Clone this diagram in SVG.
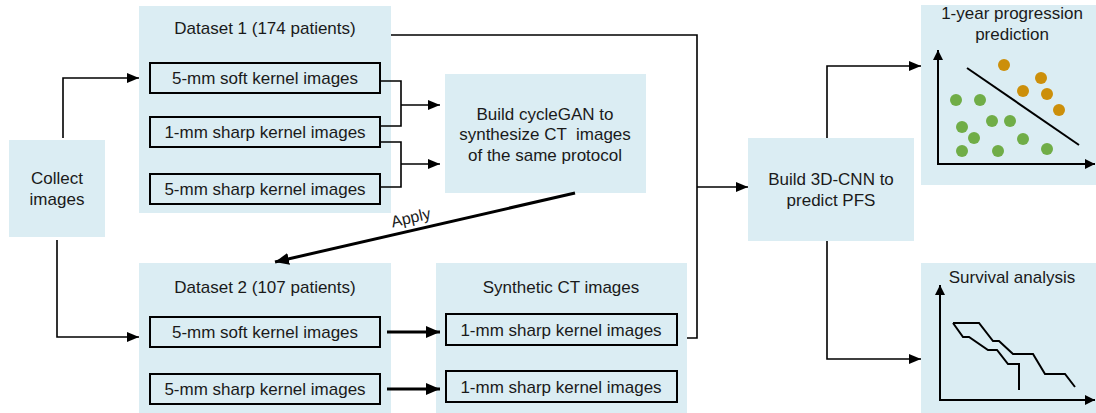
<svg xmlns="http://www.w3.org/2000/svg" width="1096" height="413" viewBox="0 0 1096 413">
<defs>
<style>
.bg{fill:#dbedf3;stroke:none}
.ib{fill:#dbedf3;stroke:#000;stroke-width:2}
.t{font-family:"Liberation Sans",Arial,sans-serif;font-size:17px;fill:#1a1a1a;text-anchor:middle}
.c{fill:none;stroke:#000;stroke-width:1.6}
.ck{fill:none;stroke:#000;stroke-width:3}
.ax{fill:none;stroke:#000;stroke-width:2}
.g{fill:#70ad47}
.o{fill:#cc8f0a}
</style>
<marker id="ah" viewBox="0 0 12 10" refX="12" refY="5" markerWidth="12" markerHeight="10" markerUnits="userSpaceOnUse" orient="auto">
<path d="M0,0 L12,5 L0,10 Z" fill="#000"/>
</marker>
<marker id="ahk" viewBox="0 0 14 12" refX="14" refY="6" markerWidth="14" markerHeight="12" markerUnits="userSpaceOnUse" orient="auto">
<path d="M0,0 L14,6 L0,12 Z" fill="#000"/>
</marker>
<marker id="ahs" viewBox="0 0 10 10" refX="10" refY="5" markerWidth="10" markerHeight="10" markerUnits="userSpaceOnUse" orient="auto">
<path d="M0,0 L10,5 L0,10 Z" fill="#000"/>
</marker>
</defs>
<rect width="1096" height="413" fill="#fff"/>

<g id="collect">
<rect class="bg" x="9" y="140" width="96" height="97"/>
<text class="t" x="57" y="184">Collect</text>
<text class="t" x="57" y="205">images</text>
</g>

<g id="dataset1">
<rect class="bg" x="139" y="6" width="252" height="207"/>
<text class="t" x="265" y="34">Dataset 1 (174 patients)</text>
<rect class="ib" x="150" y="63" width="230" height="30"/>
<text class="t" x="265" y="84">5-mm soft kernel images</text>
<rect class="ib" x="150" y="117" width="230" height="30"/>
<text class="t" x="265" y="138">1-mm sharp kernel images</text>
<rect class="ib" x="150" y="174" width="230" height="30"/>
<text class="t" x="265" y="195">5-mm sharp kernel images</text>
</g>

<g id="cyclegan">
<rect class="bg" x="445" y="74" width="201" height="119"/>
<text class="t" x="545" y="120">Build cycleGAN to</text>
<text class="t" x="545" y="140" xml:space="preserve">synthesize CT  images</text>
<text class="t" x="545" y="161">of the same protocol</text>
</g>

<g id="dataset2">
<rect class="bg" x="139" y="263" width="252" height="150"/>
<text class="t" x="265" y="293">Dataset 2 (107 patients)</text>
<rect class="ib" x="150" y="317" width="230" height="30"/>
<text class="t" x="265" y="338">5-mm soft kernel images</text>
<rect class="ib" x="150" y="374" width="230" height="30"/>
<text class="t" x="265" y="395">5-mm sharp kernel images</text>
</g>

<g id="synthetic">
<rect class="bg" x="436" y="263" width="251" height="150"/>
<text class="t" x="561" y="293">Synthetic CT images</text>
<rect class="ib" x="446" y="314" width="231" height="31"/>
<text class="t" x="561" y="336">1-mm sharp kernel images</text>
<rect class="ib" x="446" y="371" width="231" height="31"/>
<text class="t" x="561" y="393">1-mm sharp kernel images</text>
</g>

<g id="cnn">
<rect class="bg" x="748" y="138" width="166" height="103"/>
<text class="t" x="831" y="185">Build 3D-CNN to</text>
<text class="t" x="831" y="206">predict PFS</text>
</g>

<g id="progression">
<rect class="bg" x="921" y="5" width="175" height="180"/>
<text class="t" x="1012" y="19">1-year progression</text>
<text class="t" x="1012" y="40">prediction</text>
<line class="ax" x1="938" y1="164" x2="938" y2="50" marker-end="url(#ahs)"/>
<line class="ax" x1="937" y1="164" x2="1095" y2="164" marker-end="url(#ahs)"/>
<line class="ax" x1="967" y1="68" x2="1079" y2="145"/>
<circle class="o" cx="1004" cy="65" r="6"/>
<circle class="o" cx="1041" cy="78" r="6"/>
<circle class="o" cx="1023" cy="91" r="6"/>
<circle class="o" cx="1047" cy="94" r="6"/>
<circle class="o" cx="1059" cy="110" r="6"/>
<circle class="g" cx="956" cy="100" r="6"/>
<circle class="g" cx="980" cy="100" r="6"/>
<circle class="g" cx="962" cy="127" r="6"/>
<circle class="g" cx="992" cy="121" r="6"/>
<circle class="g" cx="1010" cy="121" r="6"/>
<circle class="g" cx="974" cy="138" r="6"/>
<circle class="g" cx="1023" cy="139" r="6"/>
<circle class="g" cx="962" cy="151" r="6"/>
<circle class="g" cx="998" cy="151" r="6"/>
<circle class="g" cx="1047" cy="149" r="6"/>
</g>

<g id="survival">
<rect class="bg" x="921" y="263" width="175" height="150"/>
<text class="t" x="1012" y="283">Survival analysis</text>
<line class="ax" x1="940" y1="400" x2="940" y2="285" marker-end="url(#ahs)"/>
<line class="ax" x1="939" y1="400" x2="1095" y2="400" marker-end="url(#ahs)"/>
<polyline class="ax" points="953,323 979,323 993,341 999,341 1013,354 1033,354 1045,374 1065,374 1075,387"/>
<polyline class="ax" points="953,323 963,337 969,337 988,350 997,350 1008,364 1019,364 1019,390"/>
</g>

<g id="connectors">
<polyline class="c" points="63,138 63,78 139,78" marker-end="url(#ah)"/>
<polyline class="c" points="57,240 57,337 139,337" marker-end="url(#ah)"/>
<polyline class="c" points="380,81 401,81 401,126 380,126"/>
<line class="c" x1="401" y1="105" x2="440" y2="105" marker-end="url(#ah)"/>
<polyline class="c" points="380,142 401,142 401,187 380,187"/>
<line class="c" x1="401" y1="164" x2="440" y2="164" marker-end="url(#ah)"/>
<polyline class="c" points="391,35 697,35 697,338 687,338"/>
<line class="c" x1="697" y1="187" x2="748" y2="187" marker-end="url(#ah)"/>
<line class="ck" x1="575" y1="193" x2="275" y2="262" marker-end="url(#ahk)"/>
<text class="t" transform="translate(412,223) rotate(-13)" style="font-size:16px">Apply</text>
<line class="ck" x1="387" y1="332" x2="440" y2="332" marker-end="url(#ahk)"/>
<line class="ck" x1="387" y1="389" x2="440" y2="389" marker-end="url(#ahk)"/>
<polyline class="c" points="827,138 827,66 921,66" marker-end="url(#ah)"/>
<polyline class="c" points="827,241 827,359 921,359" marker-end="url(#ah)"/>
</g>
</svg>
